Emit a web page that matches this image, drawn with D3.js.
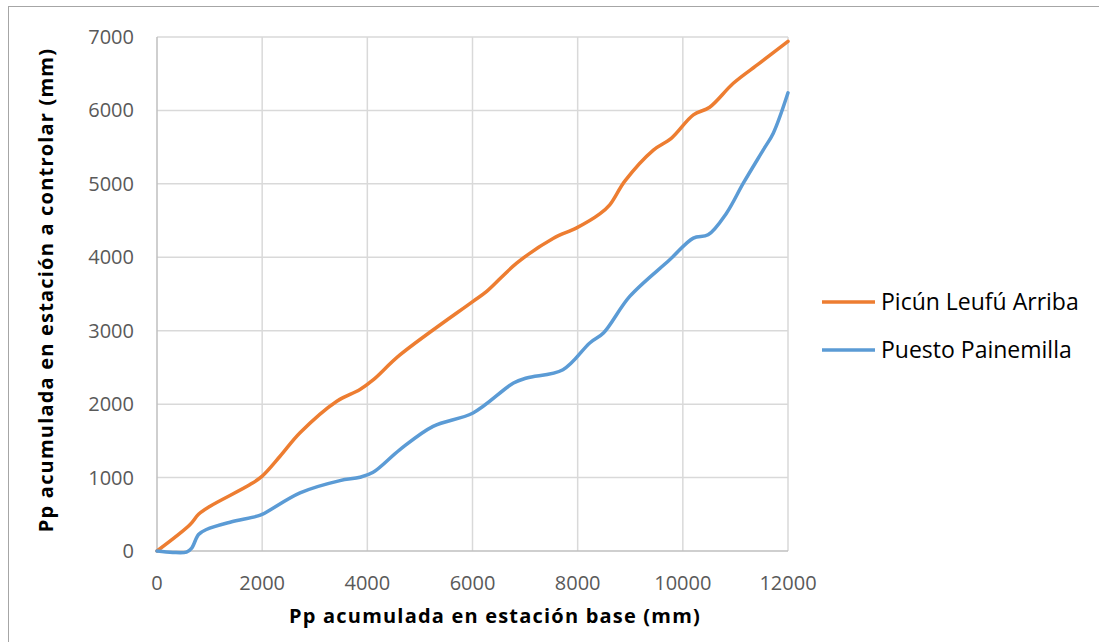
<!DOCTYPE html>
<html>
<head>
<meta charset="utf-8">
<script src="https://cdn.jsdelivr.net/npm/d3@7"></script>
<style>
  body { margin: 0; background: #fff; }
  text { font-family: "Open Sans", Lato, sans-serif; }
</style>
</head>
<body>
<script>
// series
var picunX = [0, 630, 790, 1010, 1770, 2000, 2340, 2720, 3420, 3860, 4110, 4620, 6010, 6270, 6840, 7540, 7980, 8420, 8610, 8900, 9440, 9780, 10200, 10510, 10960, 11460, 12000];
var picunY = [0, 360, 500, 610, 905, 1020, 1290, 1610, 2040, 2200, 2330, 2670, 3400, 3535, 3920, 4260, 4400, 4590, 4714, 5040, 5460, 5620, 5940, 6044, 6370, 6644, 6940];

var puestoX = [0, 300, 560, 660, 790, 940, 1390, 1900, 2020, 2720, 3480, 3860, 4110, 4620, 5250, 6010, 6780, 7030, 7720, 8230, 8490, 8990, 9750, 10200, 10480, 10830, 11150, 11530, 11720, 12000];
var puestoY = [0, -20, -15, 40, 225, 293, 392, 474, 506, 792, 959, 1004, 1072, 1381, 1698, 1880, 2288, 2356, 2469, 2833, 2969, 3467, 3966, 4261, 4306, 4601, 5009, 5463, 5690, 6240];

var seriesNames = ["Picún Leufú Arriba", "Puesto Painemilla"];
var seriesColors = ["#ed7d31", "#5b9bd5"];
var xTicks = [0, 2000, 4000, 6000, 8000, 10000, 12000];
var yTicks = [0, 1000, 2000, 3000, 4000, 5000, 6000, 7000];

var width = 1099, height = 642;
var margin = { left: 157, top: 37, right: 311, bottom: 91 };

var svg = d3.select("body").append("svg")
  .attr("width", width)
  .attr("height", height);

// chart frame
svg.append("rect")
  .attr("x", 8.5).attr("y", 6.5)
  .attr("width", width).attr("height", height)
  .attr("fill", "#fff")
  .attr("stroke", "#a6a6a6")
  .attr("stroke-width", 1);

var x = d3.scaleLinear().domain([0, 12000]).range([margin.left, width - margin.right]);
var y = d3.scaleLinear().domain([0, 7000]).range([height - margin.bottom, margin.top]);

// gridlines
svg.append("g")
  .selectAll("line")
  .data(xTicks.slice(1))
  .enter().append("line")
  .attr("x1", function (d) { return x(d); })
  .attr("x2", function (d) { return x(d); })
  .attr("y1", y(0)).attr("y2", y(7000))
  .attr("stroke", "#d9d9d9").attr("stroke-width", 1.5);

svg.append("g")
  .selectAll("line")
  .data(yTicks.slice(1))
  .enter().append("line")
  .attr("x1", x(0)).attr("x2", x(12000))
  .attr("y1", function (d) { return y(d); })
  .attr("y2", function (d) { return y(d); })
  .attr("stroke", "#d9d9d9").attr("stroke-width", 1.5);

// axis lines
svg.append("line")
  .attr("x1", x(0)).attr("x2", x(0))
  .attr("y1", y(0)).attr("y2", y(7000))
  .attr("stroke", "#bfbfbf").attr("stroke-width", 1.5);
svg.append("line")
  .attr("x1", x(0)).attr("x2", x(12000))
  .attr("y1", y(0)).attr("y2", y(0))
  .attr("stroke", "#bfbfbf").attr("stroke-width", 1.5);

// tick labels
svg.append("g")
  .selectAll("text")
  .data(yTicks)
  .enter().append("text")
  .attr("x", 134)
  .attr("y", function (d) { return y(d) + 7; })
  .attr("text-anchor", "end")
  .attr("fill", "#595959")
  .attr("font-size", "20px")
  .text(function (d) { return d; });

svg.append("g")
  .selectAll("text")
  .data(xTicks)
  .enter().append("text")
  .attr("x", function (d) { return x(d); })
  .attr("y", 590)
  .attr("text-anchor", "middle")
  .attr("fill", "#595959")
  .attr("font-size", "20px")
  .text(function (d) { return d; });

// axis titles
svg.append("text")
  .attr("x", 495)
  .attr("y", 623)
  .attr("text-anchor", "middle")
  .attr("font-weight", "bold")
  .attr("font-size", "20px")
  .attr("letter-spacing", "1.2px")
  .text("Pp acumulada en estación base (mm)");

svg.append("text")
  .attr("transform", "translate(53,290) rotate(-90)")
  .attr("text-anchor", "middle")
  .attr("font-weight", "bold")
  .attr("font-size", "20px")
  .attr("letter-spacing", "1.2px")
  .text("Pp acumulada en estación a controlar (mm)");

// lines
var series = [
  d3.zip(picunX, picunY),
  d3.zip(puestoX, puestoY)
];

var line = d3.line()
  .x(function (d) { return x(d[0]); })
  .y(function (d) { return y(d[1]); })
  .curve(d3.curveCatmullRom.alpha(0.5));

svg.append("g")
  .selectAll("path")
  .data(series)
  .enter().append("path")
  .attr("d", line)
  .attr("fill", "none")
  .attr("stroke", function (d, i) { return seriesColors[i]; })
  .attr("stroke-width", 3.5)
  .attr("stroke-linecap", "round")
  .attr("stroke-linejoin", "round");

// legend
var legend = svg.append("g")
  .selectAll("g")
  .data(seriesNames)
  .enter().append("g")
  .attr("transform", function (d, i) { return "translate(822," + (302 + i * 48) + ")"; });

legend.append("line")
  .attr("x1", 0).attr("x2", 53)
  .attr("stroke", function (d, i) { return seriesColors[i]; })
  .attr("stroke-width", 3.5);

legend.append("text")
  .attr("x", 59)
  .attr("y", 8)
  .attr("font-size", "23px")
  .attr("fill", "#000")
  .text(function (d) { return d; });
</script>
</body>
</html>
